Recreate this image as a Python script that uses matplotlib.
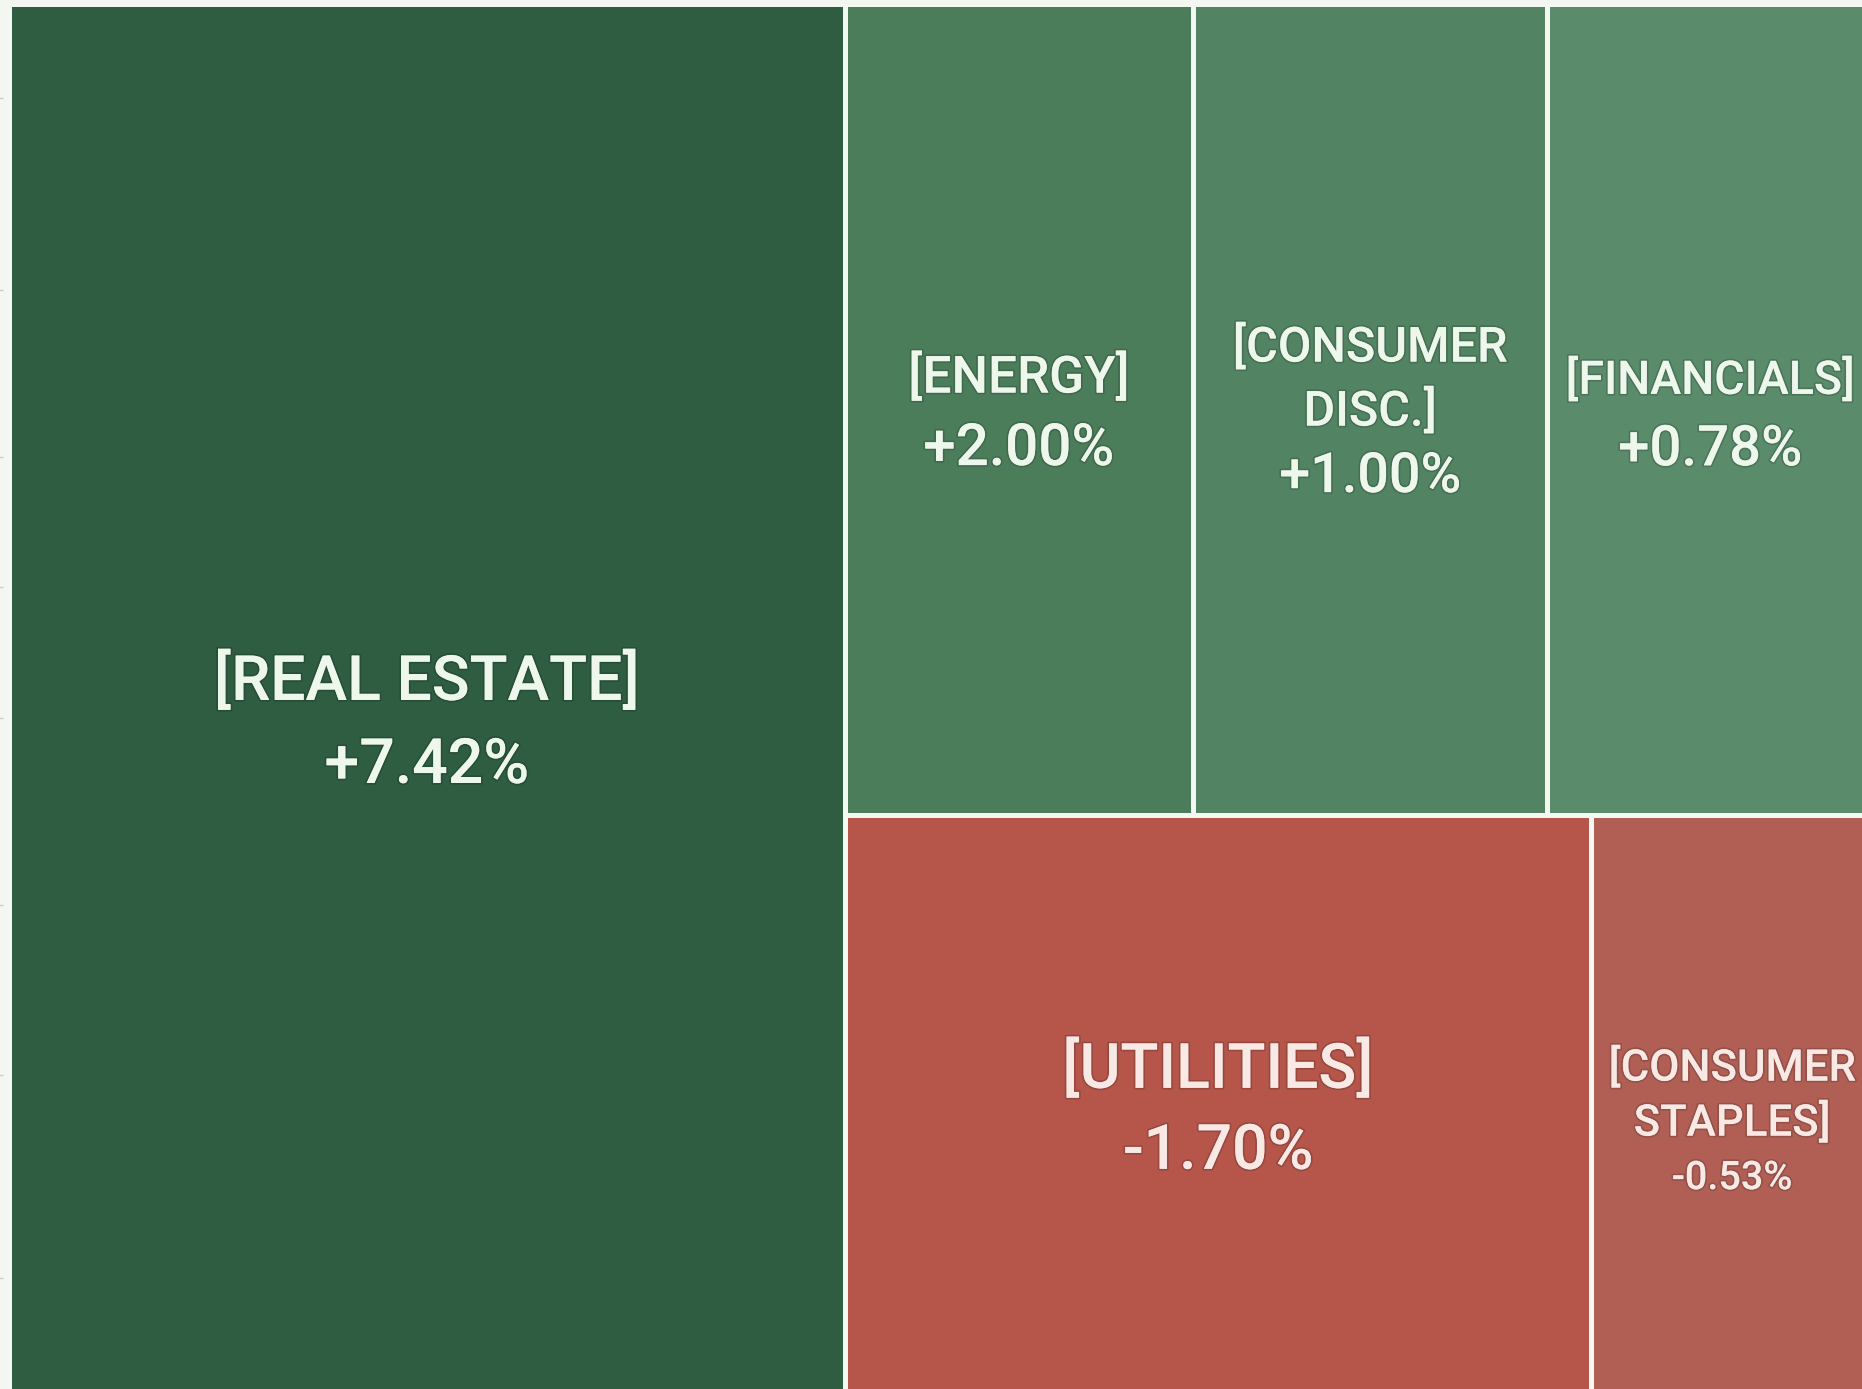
import numpy as np
import matplotlib.pyplot as plt
from matplotlib.patches import Rectangle
import matplotlib.patheffects as pe

# sector data
sectors = ['[REAL ESTATE]', '[ENERGY]', '[CONSUMER\nDISC.]', '[FINANCIALS]',
           '[UTILITIES]', '[CONSUMER\nSTAPLES]']
changes = [7.42, 2.00, 1.00, 0.78, -1.70, -0.53]
weights = [44.9, 10.9, 11.1, 10.2, 16.7, 6.3]

# treemap structure: one column, then two rows in the remaining space
first_column = [0]
top_row = [1, 2, 3]
bottom_row = [4, 5]

# styling
colors = ['#2e5d41', '#4b7d5b', '#528463', '#5a8b6b', '#b6554a', '#b15f55']
name_sizes = [45, 37, 35, 33.5, 45, 31.5]
value_sizes = [45, 42, 40, 40.5, 45, 28.5]
line_gap = [83, 70, 64, 68, 81, 55]      # px between line centres
shift = [20, 0, -1, 2, 1, 15]            # px, downwards
bg = '#f3f6f1'
plt.rcParams['font.family'] = ['Roboto', 'DejaVu Sans']
CAP = 0.711  # Roboto cap height / em


def layout():
    '''
    Slice-and-dice layout in a unit square (y grows downwards).
    '''
    total = sum(weights)
    rects = {}
    x = 0.0
    for i in first_column:
        w = weights[i] / total
        rects[i] = (x, 0.0, w, 1.0)
        x += w
    rest_w = 1.0 - x
    top_sum = sum(weights[i] for i in top_row)
    bot_sum = sum(weights[i] for i in bottom_row)
    top_h = top_sum / (top_sum + bot_sum)
    xx = x
    for i in top_row:
        w = rest_w * weights[i] / top_sum
        rects[i] = (xx, 0.0, w, top_h)
        xx += w
    xx = x
    for i in bottom_row:
        w = rest_w * weights[i] / bot_sum
        rects[i] = (xx, top_h, w, 1.0 - top_h)
        xx += w
    return rects


fig = plt.figure(figsize=(18.62, 13.89), dpi=100, facecolor=bg)
ax = fig.add_axes([8.5 / 1862, -6 / 1389, 1864.5 / 1862, 1391.5 / 1389])
ax.set_facecolor(bg)
ax.set_xlim(0, 1)
ax.set_ylim(1, 0)

glow = [pe.withStroke(linewidth=2.5, foreground='#00000028')]
rects = layout()
for i, name in enumerate(sectors):
    x0, y0, w, h = rects[i]
    ax.add_patch(Rectangle((x0, y0), w, h, facecolor=colors[i],
                           edgecolor='#f4f8f2', linewidth=3.6))
    txt_col = '#eef7ec' if changes[i] >= 0 else '#f8e9e5'
    lines = name.split('\n') + ['%+.2f%%' % changes[i]]
    sizes = [name_sizes[i]] * (len(lines) - 1) + [value_sizes[i]]
    n = len(lines)
    for k, (s, fs) in enumerate(zip(lines, sizes)):
        d = (k - (n - 1) / 2) * line_gap[i] + shift[i]
        cap_px = CAP * fs * 100 / 72
        ax.annotate(s, xy=(x0 + w / 2, y0 + h / 2), xycoords='data',
                    xytext=(0, -(d + cap_px / 2)), textcoords='offset pixels',
                    ha='center', va='baseline', fontsize=fs, fontweight='medium',
                    color=txt_col, path_effects=glow, annotation_clip=False)

# faint tick marks on the far left
tick_px = [98, 290, 457, 587, 718, 905, 1075, 1278]
ax.set_yticks([(p - 3.5) / 1391.5 for p in tick_px])
ax.set_yticklabels([])
ax.set_xticks([])
ax.tick_params(axis='y', length=4, width=1, color='#c8cbc6', direction='out')
ax.spines['left'].set_position(('outward', 4))
for s in ax.spines.values():
    s.set_visible(False)

fig.savefig('out.png', dpi=100, facecolor=bg)
